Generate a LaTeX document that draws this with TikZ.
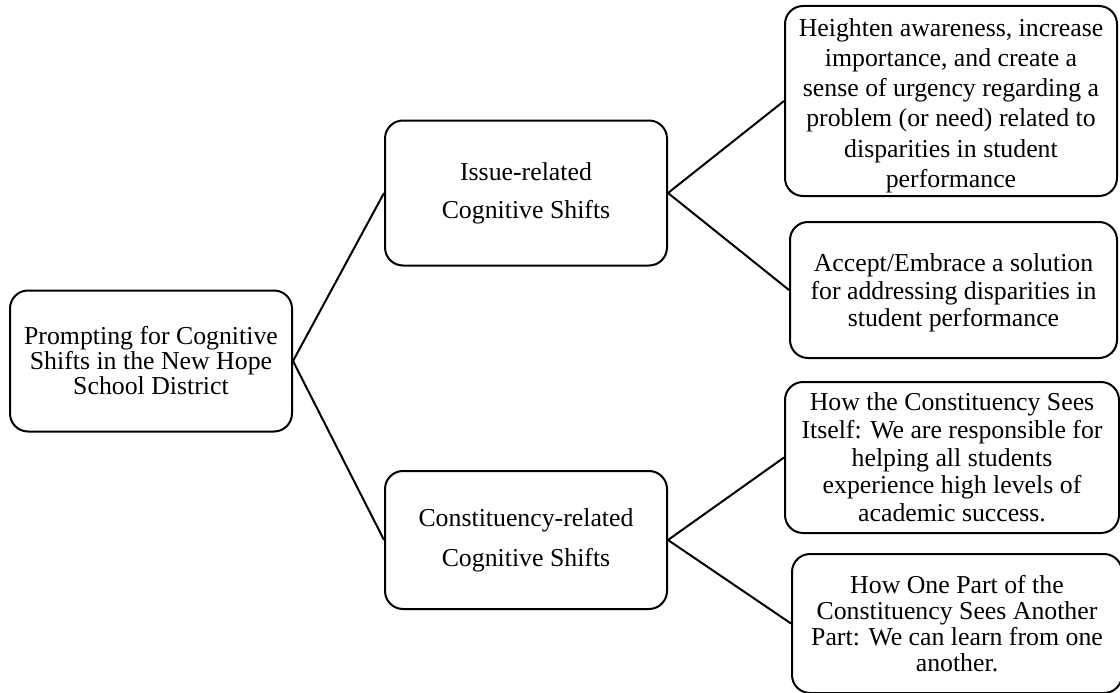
\documentclass[tikz,border=0pt]{standalone}
\usepackage{fontspec}
\setmainfont{Liberation Serif}
\begin{document}
\begin{tikzpicture}[x=1pt, y=-1pt,
  box/.style={draw, line width=2pt, rounded corners=18pt, align=center,
    inner sep=0pt, font=\fontsize{25.8}{27.5}\selectfont},
  txt/.style={align=center, inner sep=0pt},
  link/.style={line width=2pt}]
\useasboundingbox (0,0) rectangle (1120,693);

% root of the tree
\node[box, minimum width=282pt, minimum height=141pt,
  font=\fontsize{25.8}{25}\selectfont] (root) at (151,361)
  {Prompting for Cognitive\\Shifts in the New Hope\\School District};

% second level
\node[box, minimum width=282pt, minimum height=145pt,
  font=\fontsize{25.8}{38}\selectfont] (issue) at (526,193)
  {Issue-related\\Cognitive Shifts};
\node[box, minimum width=282pt, minimum height=138pt,
  font=\fontsize{25.8}{40}\selectfont] (const) at (526,540)
  {Constituency-related\\Cognitive Shifts};

% leaves
\node[box, minimum width=332pt, minimum height=190pt] (aware) at (951,101) {};
\node[txt, font=\fontsize{25.8}{30.2}\selectfont] (awaretext) at (951,105.5)
  {Heighten awareness, increase\\importance, and create a\\sense of urgency regarding a\\problem (or need) related to\\disparities in student\\performance};
\node[box, minimum width=327pt, minimum height=136pt] (accept) at (953.5,290) {};
\node[txt, font=\fontsize{25.8}{27.5}\selectfont] (accepttext) at (953.5,293)
  {Accept/Embrace a solution\\for addressing disparities in\\student performance};
\node[box, minimum width=334pt, minimum height=151pt,
  font=\fontsize{25.8}{27.7}\selectfont] (itself) at (952,457.5)
  {How the Constituency Sees\\Itself: We are responsible for\\helping all students\\experience high levels of\\academic success.};
\node[box, minimum width=330pt, minimum height=139pt,
  font=\fontsize{25.8}{26}\selectfont] (another) at (957,623.5)
  {How One Part of the\\Constituency Sees Another\\Part: We can learn from one\\another.};

% connectors
\draw[link] (root.east) -- (issue.west);
\draw[link] (root.east) -- (const.west);
\draw[link] (issue.east) -- (aware.west);
\draw[link] (issue.east) -- (accept.west);
\draw[link] (const.east) -- (itself.west);
\draw[link] (const.east) -- (another.west);
\end{tikzpicture}
\end{document}
